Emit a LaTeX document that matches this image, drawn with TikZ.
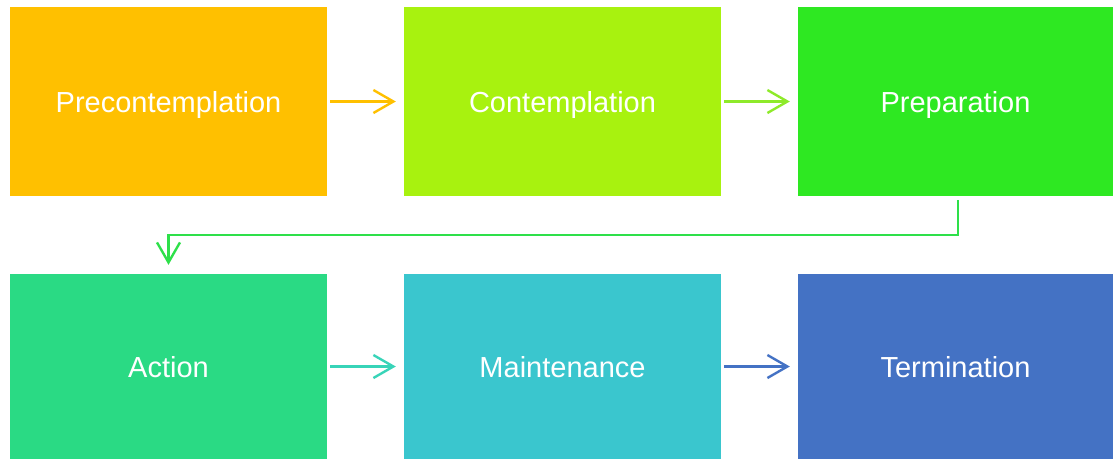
\documentclass[tikz,border=0pt]{standalone}
\usepackage{fontspec}
\setmainfont{Liberation Sans}
\usetikzlibrary{arrows.meta}

\definecolor{stagea}{HTML}{FFC000}
\definecolor{stageb}{HTML}{A8F20F}
\definecolor{stagec}{HTML}{2EE822}
\definecolor{staged}{HTML}{2ADA84}
\definecolor{stagee}{HTML}{3AC6CE}
\definecolor{stagef}{HTML}{4472C4}
\definecolor{linkb}{HTML}{8EEA2A}
\definecolor{linkc}{HTML}{2EE04A}
\definecolor{linkd}{HTML}{38D4B8}

\tikzset{
  stagebox/.style={minimum width=317pt, minimum height=189pt, inner sep=0pt,
    text=white, font=\fontsize{29}{35}\selectfont, text depth=0pt, text height=21pt},
  link/.style={line width=2.4pt, -{Straight Barb[length=20pt, width=23pt, line width=2.4pt]},
    shorten <=3pt, shorten >=8pt}
}

\begin{document}
\begin{tikzpicture}[x=1pt, y=-1pt]
  \useasboundingbox (0,0) rectangle (1113,459);
  % top row
  \node[stagebox, fill=stagea] (pre) at (168.5,101.5) {Precontemplation};
  \node[stagebox, fill=stageb] (con) at (562.5,101.5) {Contemplation};
  \node[stagebox, fill=stagec, minimum width=315pt] (prep) at (955.5,101.5) {Preparation};
  % bottom row
  \node[stagebox, fill=staged, minimum height=185pt] (act) at (168.5,366.5) {Action};
  \node[stagebox, fill=stagee, minimum height=185pt] (main) at (562.5,366.5) {Maintenance};
  \node[stagebox, fill=stagef, minimum width=315pt, minimum height=185pt] (term) at (955.5,366.5) {Termination};

  \draw[link, stagea] (pre) -- (con);
  \draw[link, linkb] (con) -- (prep);
  \draw[link, linkc, shorten <=4pt, shorten >=9pt] (prep.south) ++(2.5,0) -- ++(0,39) -| (act.north);
  \draw[link, linkd] (act) -- (main);
  \draw[link, stagef] (main) -- (term);
\end{tikzpicture}
\end{document}
